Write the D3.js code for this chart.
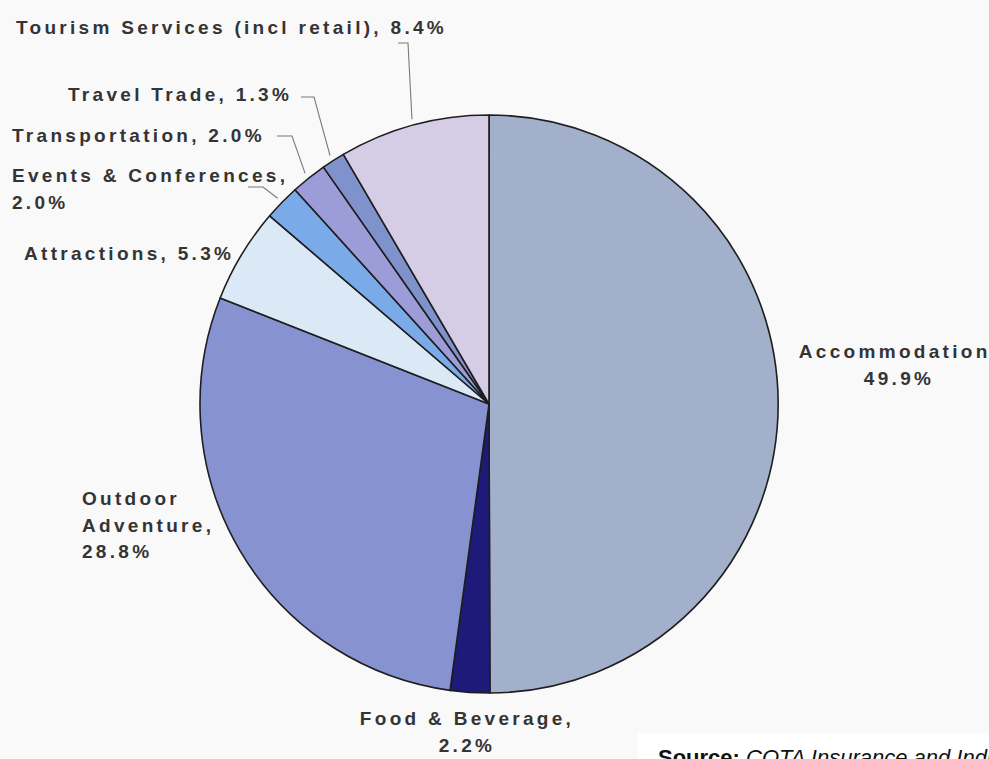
<!DOCTYPE html>
<html lang="en">
<head>
<meta charset="utf-8">
<script src="https://d3js.org/d3.v7.min.js"></script>
<style>
  body { margin: 0; background: #f9f9f9; }
  svg { display: block; }
</style>
</head>
<body>
<div id="my_dataviz"></div>
<script>

    // data
    var categories = ["Accommodation", "Food & Beverage", "Outdoor Adventure", "Attractions",
                      "Events & Conferences", "Transportation", "Travel Trade", "Tourism Services (incl retail)"];
    var values = [49.9, 2.2, 28.8, 5.3, 2.0, 2.0, 1.3, 8.4];
    var colors = ["#a3b0cc", "#1d1a7a", "#8793d0", "#dbe9f6", "#7aaae8", "#9c9cd8", "#7f92cc", "#d5cce6"];

    var width = 989, height = 759;
    var cx = 489, cy = 404, radius = 289;

    var svg = d3.select("#my_dataviz")
      .append("svg")
        .attr("width", width)
        .attr("height", height)

    svg.append("rect")
        .attr("width", width)
        .attr("height", height)
        .style("fill", "#f9f9f9")

    var g = svg.append("g")
        .attr("transform", "translate(" + cx + "," + cy + ")")

    var pie = d3.pie().sort(null).value(function(d) { return d.value; })
    var arc = d3.arc().innerRadius(0).outerRadius(radius)

    var data = categories.map(function(c, i) { return {name: c, value: values[i], color: colors[i]}; })
    var arcs = pie(data)

    g.selectAll("path.slice")
      .data(arcs)
      .enter()
      .append("path")
        .attr("class", "slice")
        .attr("d", arc)
        .style("fill", function(d) { return d.data.color; })
        .style("stroke", "#1e1e1e")
        .style("stroke-width", 1.6)
        .style("stroke-linejoin", "round")

    // label layout: lines of text, anchor, position (absolute), optional leader elbow
    var labels = [
      {lines: ["Accommodation,", "49.9%"], x: 897, y: 358, anchor: "middle"},
      {lines: ["Food & Beverage,", "2.2%"], x: 465, y: 725, anchor: "middle"},
      {lines: ["Outdoor", "Adventure,", "28.8%"], x: 82, y: 505, anchor: "start"},
      {lines: ["Attractions, 5.3%"], x: 24, y: 260, anchor: "start"},
      {lines: ["Events & Conferences,", "2.0%"], x: 12, y: 182, anchor: "start", leader: [[248, 187], [263, 187]]},
      {lines: ["Transportation, 2.0%"], x: 12, y: 142, anchor: "start", leader: [[277, 136], [292, 136]]},
      {lines: ["Travel Trade, 1.3%"], x: 68, y: 101, anchor: "start", leader: [[301, 97], [314, 97]]},
      {lines: ["Tourism Services (incl retail), 8.4%"], x: 16, y: 34, anchor: "start", leader: [[398, 43], [408, 43]]}
    ]

    // leader lines from label elbow to the slice edge
    var edge = d3.arc().innerRadius(radius + 6).outerRadius(radius + 6)
    labels.forEach(function(l, i) {
      if (!l.leader) return;
      var c = edge.centroid(arcs[i]);
      var pts = l.leader.concat([[c[0] + cx, c[1] + cy]]);
      svg.append("path")
        .attr("d", d3.line()(pts))
        .style("fill", "none")
        .style("stroke", "#7a7a7a")
        .style("stroke-width", 1.1)
    })

    labels.forEach(function(l) {
      var t = svg.append("text")
        .attr("x", l.x)
        .attr("y", l.y)
        .attr("text-anchor", l.anchor)
        .style("font-family", "Liberation Sans, Arial, sans-serif")
        .style("font-size", "19px")
        .style("font-weight", "bold")
        .style("letter-spacing", "3.3px")
        .style("fill", "#343434")
      l.lines.forEach(function(s, j) {
        t.append("tspan")
          .attr("x", l.x + (l.anchor === "middle" ? 2 : 0))
          .attr("dy", j === 0 ? 0 : 26.5)
          .text(s)
      })
    })

    // source note (cut at the page edge)
    svg.append("rect")
        .attr("x", 638)
        .attr("y", 733)
        .attr("width", 400)
        .attr("height", 60)
        .style("fill", "#ffffff")

    var src = svg.append("text")
        .attr("x", 658)
        .attr("y", 765)
        .style("font-family", "Liberation Sans, Arial, sans-serif")
        .style("font-size", "22px")
        .style("fill", "#111")
    src.append("tspan").style("font-weight", "bold").text("Source: ")
    src.append("tspan").style("font-style", "italic").text("COTA Insurance and Industry")

</script>
</body>
</html>
